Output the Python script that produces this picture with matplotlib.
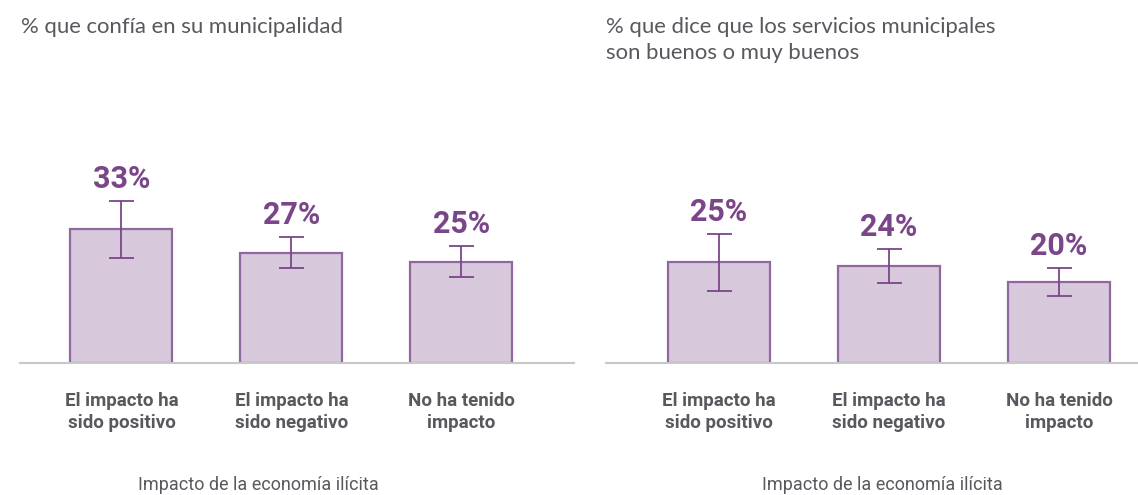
import matplotlib.pyplot as plt
import numpy as np

plt.rcParams['font.family'] = ['Roboto', 'DejaVu Sans']

categories = ['El impacto ha\nsido positivo', 'El impacto ha\nsido negativo', 'No ha tenido\nimpacto']
titles = ['% que confía en su municipalidad',
          '% que dice que los servicios municipales\nson buenos o muy buenos']
xlabel = 'Impacto de la economía ilícita'

trust = [33, 27, 25]
trust_low = [25.9, 23.3, 21.2]
trust_high = [39.9, 31.0, 28.8]

services = [25, 24, 20]
services_low = [17.8, 19.6, 16.5]
services_high = [31.8, 28.1, 23.4]

fill = '#d8c8dc'
edge = '#9068a0'
purple = '#7a4689'
gray = '#58595e'

W, H = 1138, 495
fig = plt.figure(figsize=(W / 100, H / 100), dpi=100)

def px(x0, y0, x1, y1):
    # pixel box (top-left origin) -> figure fraction
    return [x0 / W, 1 - y1 / H, (x1 - x0) / W, (y1 - y0) / H]

panels = [
    (px(20, 140, 574, 363), trust, trust_low, trust_high, (-0.597, 2.662), 0.43, titles[0], 21),
    (px(606, 140, 1138, 363), services, services_low, services_high, (-0.665, 2.465), 0.52, titles[1], 606),
]

for box, vals, lo, hi, xlim, xl_x, title, tx in panels:
    ax = fig.add_axes(box)
    x = np.arange(len(vals))
    vals = np.array(vals)
    err = [vals - np.array(lo), np.array(hi) - vals]
    ax.bar(x, vals, width=0.6, color=fill, edgecolor=edge, linewidth=1.6, zorder=2)
    ax.errorbar(x, vals, yerr=err, fmt='none', ecolor=purple, elinewidth=1.3,
                capsize=9, capthick=1.3, zorder=3)
    for xi, h, v in zip(x, hi, vals):
        ax.annotate(f'{v}%', (xi, h), xytext=(0, 5), textcoords='offset points',
                    ha='center', va='bottom', fontsize=22, fontweight='bold', color=purple)
    ax.set_xlim(*xlim)
    ax.set_ylim(0, 223 / 4.06)
    ax.set_yticks([])
    for s in ['top', 'right', 'left']:
        ax.spines[s].set_visible(False)
    ax.spines['bottom'].set_color('#c8c8c8')
    ax.spines['bottom'].set_linewidth(1.5)
    ax.set_xticks(x)
    ax.set_xticklabels(categories, fontsize=13.5, fontweight='bold', color=gray, linespacing=1.27)
    ax.tick_params(axis='x', length=0, pad=21)
    ax.set_xlabel(xlabel, fontsize=13, color=gray)
    ax.xaxis.label.set_va('bottom')
    ax.xaxis.set_label_coords(xl_x, -(494 - 363) / 223)
    fig.text(tx / W, 1 - 17 / H, title, fontsize=15.9, color=gray, va='top', ha='left',
             linespacing=1.4, family=['Lato', 'DejaVu Sans'])

fig.savefig('out.png', dpi=100)
